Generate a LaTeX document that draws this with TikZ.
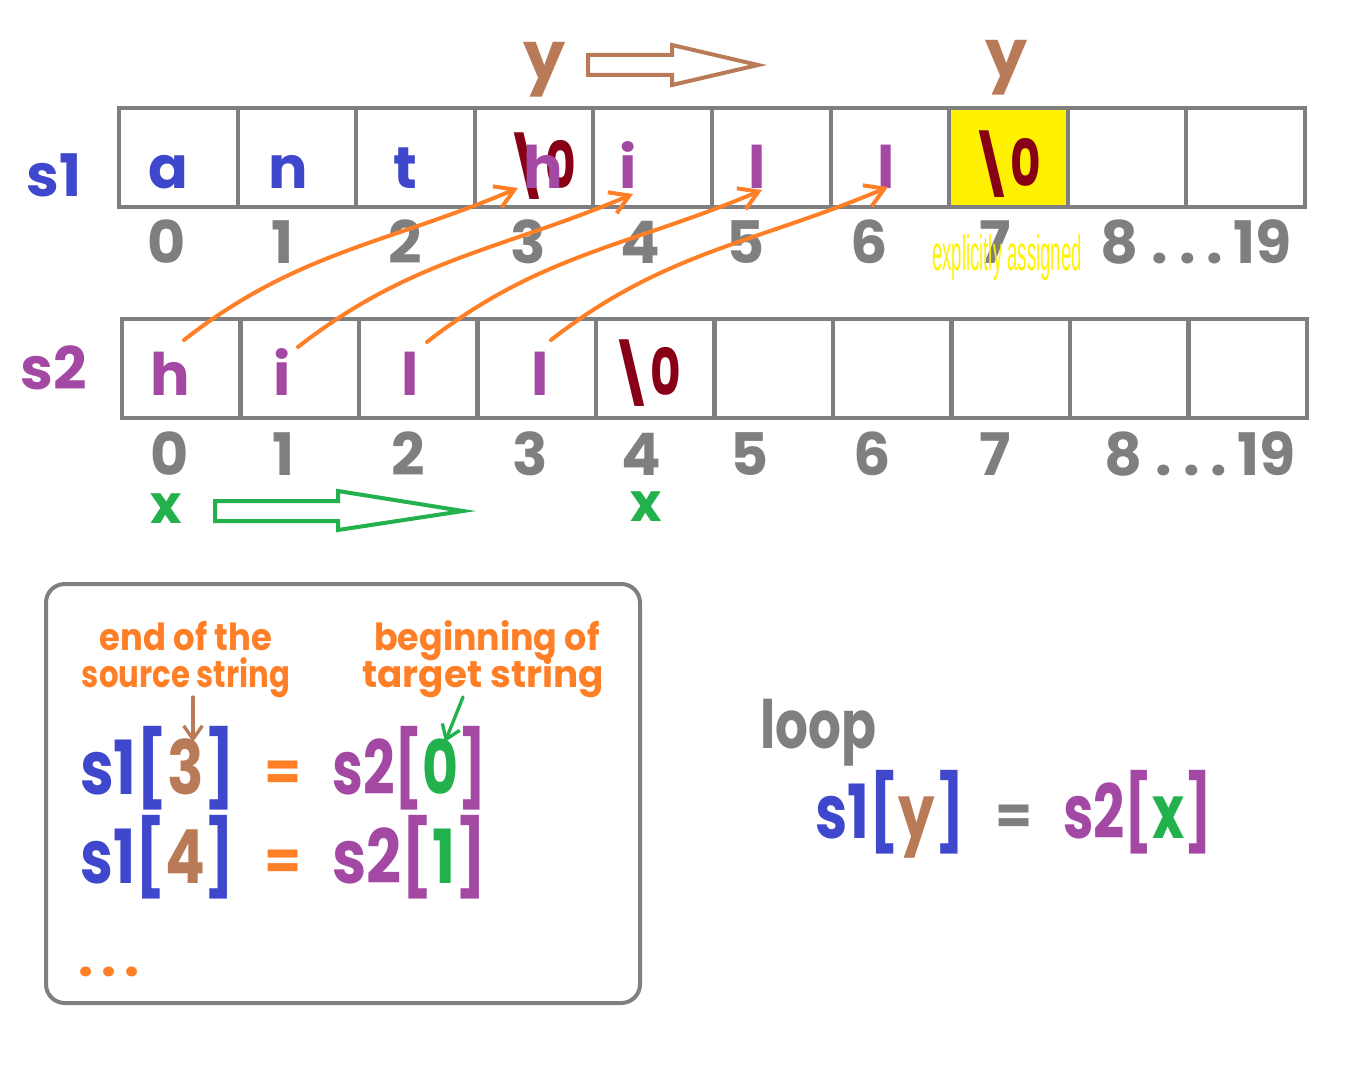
\documentclass[tikz,border=0pt]{standalone}
\usepackage{fontspec}
\setmainfont{Poppins}
\newfontfamily\narrowfont{Liberation Sans}
\usetikzlibrary{arrows.meta}
\definecolor{cblue}{HTML}{3F48CC}
\definecolor{cpurple}{HTML}{A349A4}
\definecolor{cdred}{HTML}{880015}
\definecolor{cbrown}{HTML}{B97A57}
\definecolor{corange}{HTML}{FF7F27}
\definecolor{cgreen}{HTML}{22B14C}
\definecolor{cgray}{HTML}{7F7F7F}
\definecolor{cyellow}{HTML}{FFF200}
\newcommand\fs[1]{\fontsize{#1pt}{#1pt}\selectfont}
\newcommand\fitw[2]{\resizebox{#1pt}{\height}{#2}}
\newcommand\nul{\textbackslash\kern-4pt\scalebox{0.8}[1.1]{0}}
\begin{document}
\begin{tikzpicture}[x=0.75pt,y=-0.75pt,
  cell/.style={draw=cgray,line width=3pt,minimum width=88.95pt,minimum height=74.25pt,inner sep=0pt,outer sep=0pt},
  ch/.style={font=\fs{44}\bfseries,inner sep=0pt,anchor=base},
  idx/.style={font=\fs{44}\bfseries,text=cgray,inner sep=0pt,anchor=base},
  lab/.style={font=\fs{44}\bfseries,inner sep=0pt,anchor=base},
  ptr/.style={font=\fs{50}\bfseries,inner sep=0pt},
  note/.style={font=\fs{28}\bfseries,text=corange,inner sep=0pt,anchor=base},
  big/.style={font=\fs{56}\bfseries,inner sep=0pt,anchor=base west},
  eq/.style={font=\fs{40}\bfseries,inner sep=0pt,anchor=base},
  hollow/.style={line width=3pt,line join=miter},
  copyarrow/.style={corange,line width=3pt,line cap=round,-{Straight Barb[length=14pt,width=17pt,line width=3pt]}},
  pointarrow/.style={line width=2.5pt,line cap=round,-{Straight Barb[length=10pt,width=14pt,line width=2.5pt]}}
]
\useasboundingbox (0,0) rectangle (1354,1074);

% arrays
\foreach \i in {0,...,9} {
  \node[cell] (p\i) at ({119+118.6*(\i+0.5)},157.5) {};
  \node[cell] (q\i) at ({122+118.5*(\i+0.5)},368.5) {};
}
\node[cell,fill=cyellow] (p7y) at (p7) {};

% labels
\node[lab,text=cblue] (s1lab) at (54,196) {s1};
\node[lab,text=cpurple] (s2lab) at (54,389) {s2};

% s1 contents
\node[ch,text=cblue] (a1) at (168,188) {a};
\node[ch,text=cblue] (a2) at (288,188) {n};
\node[ch,text=cblue] (a3) at (405,188) {t};
\node[ch,text=cdred] (a4z) at (540,188) {\nul};
\node[ch,text=cpurple] (a4) at (543,188) {h};
\node[ch,text=cpurple] (a5) at (628,188) {i};
\node[ch,text=cpurple] (a6) at (757,188) {l};
\node[ch,text=cpurple] (a7) at (886,188) {l};
\node[ch,text=cdred] (a8) at (1005,186) {\nul};

% s2 contents
\node[ch,text=cpurple] (b1) at (170,395) {h};
\node[ch,text=cpurple] (b2) at (282,395) {i};
\node[ch,text=cpurple] (b3) at (410,395) {l};
\node[ch,text=cpurple] (b4) at (540,395) {l};
\node[ch,text=cdred] (b5) at (645,395) {\nul};

% indices
\foreach \d/\x in {0/167,1/283,2/405,3/528,4/640,5/746,6/869,7/995}
  \node[idx] (i1\d) at (\x,263) {\d};
\node[idx] (i1r) at (1196,263) {8\hspace{10pt}.\hspace{8pt}.\hspace{8pt}.\hspace{8pt}19};
\foreach \d/\x in {0/170,1/284,2/408,3/530,4/641,5/750,6/872,7/995}
  \node[idx] (i2\d) at (\x,475) {\d};
\node[idx] (i2r) at (1200,475) {8\hspace{10pt}.\hspace{8pt}.\hspace{8pt}.\hspace{8pt}19};

\node[inner sep=0pt,anchor=base,text=cyellow] (expl) at (1007,270)
  {\resizebox{112pt}{27pt}{\narrowfont explicitly assigned}};

% pointers
\node[ptr,text=cbrown] (y1) at (545,70) {y};
\node[ptr,text=cbrown] (y2) at (1007,68) {y};
\node[ptr,text=cgreen,font=\fs{40}\bfseries] (x1) at (166,509) {x};
\node[ptr,text=cgreen,font=\fs{40}\bfseries] (x2) at (646,507) {x};

\draw[hollow,cbrown] (588,55) -- (672,55) -- (672,45) -- (758,65) -- (672,85) -- (672,75) -- (588,75) -- cycle;
\draw[hollow,cgreen] (215,501) -- (338,501) -- (338,491) -- (463,511) -- (338,530) -- (338,521) -- (215,521) -- cycle;

% copy arrows
\coordinate (c1s) at (184,340); \coordinate (c1e) at (518,188);
\coordinate (c2s) at (298,347); \coordinate (c2e) at (633,194);
\coordinate (c3s) at (427,342); \coordinate (c3e) at (762,190);
\coordinate (c4s) at (551,340); \coordinate (c4e) at (888,187);
\foreach \k in {1,2,3,4}
  \draw[copyarrow] (c\k s) to[out=38,in=-157] (c\k e);

% box
\draw[cgray,line width=3pt,rounded corners=14pt] (46,584) rectangle (640,1003);
\node[note] (n1) at (186,650) {\fitw{129}{end of the}};
\node[note] (n2) at (186,687) {\fitw{156}{source string}};
\node[note] (n3) at (487,650) {\fitw{169}{beginning of}};
\node[note] (n4) at (483,687) {\fitw{181}{target string}};

\node[big] (e1l) at (80,794) {\fitw{116}{\textcolor{cblue}{s1[}\textcolor{cbrown}{3}\textcolor{cblue}{]}}};
\node[eq,text=corange] (e1m) at (283,790) {=};
\node[big] (e1r) at (332,794) {\fitw{116}{\textcolor{cpurple}{s2[}\textcolor{cgreen}{0}\textcolor{cpurple}{]}}};
\node[big] (e2l) at (80,883) {\fitw{116}{\textcolor{cblue}{s1[}\textcolor{cbrown}{4}\textcolor{cblue}{]}}};
\node[eq,text=corange] (e2m) at (283,879) {=};
\node[big] (e2r) at (332,883) {\fitw{116}{\textcolor{cpurple}{s2[}\textcolor{cgreen}{1}\textcolor{cpurple}{]}}};
\node[big,text=corange,font=\fs{40}\bfseries] (dots) at (78,976) {.\hspace{6pt}.\hspace{6pt}.};

\coordinate (ba1) at (193,697); \coordinate (ba2) at (193,742);
\coordinate (ga1) at (463,697); \coordinate (ga2) at (445,742);
\draw[pointarrow,cbrown] (ba1) -- (ba2);
\draw[pointarrow,cgreen] (ga1) -- (ga2);

% loop
\node[big,text=cgray,font=\fs{50}\bfseries] (loop) at (760,748) {\fitw{87}{loop}};
\node[big] (l1) at (815,838) {\fitw{112}{\textcolor{cblue}{s1[}\textcolor{cbrown}{y}\textcolor{cblue}{]}}};
\node[eq,text=cgray] (lm) at (1014,834) {=};
\node[big] (l2) at (1063,838) {\fitw{112}{\textcolor{cpurple}{s2[}\textcolor{cgreen}{x}\textcolor{cpurple}{]}}};
\end{tikzpicture}
\end{document}
